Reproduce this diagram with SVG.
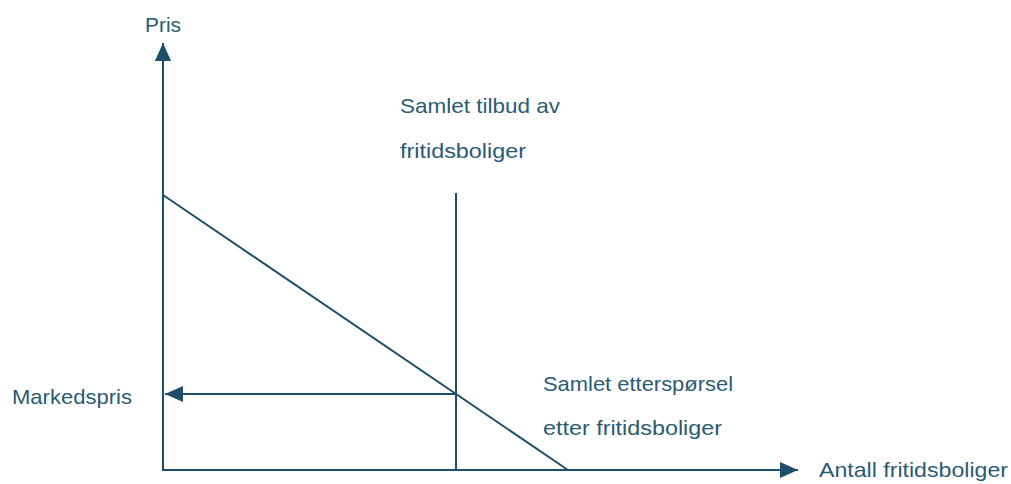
<svg xmlns="http://www.w3.org/2000/svg" width="1011" height="484" viewBox="0 0 1011 484">
<style>
.ln{stroke:#1d4f6a;stroke-width:2;fill:none}
.t{font-family:"Liberation Sans",Arial,sans-serif;font-size:21px;fill:#2a5b73}
</style>
<defs>
<marker id="ah" viewBox="0 0 10 10" refX="10" refY="5" markerWidth="9" markerHeight="9" markerUnits="userSpaceOnUse" orient="auto">
<path d="M0,0 L10,5 L0,10 z" fill="#1d4f6a"/>
</marker>
<marker id="ah2" viewBox="0 0 10 10" refX="10" refY="5" markerWidth="18" markerHeight="18" markerUnits="userSpaceOnUse" orient="auto">
<path d="M0,0.5 L10,5 L0,9.5 z" fill="#1d4f6a"/>
</marker>
</defs>
<g id="connectors">
<line id="y-axis" class="ln" x1="163" y1="471" x2="163" y2="43" marker-end="url(#ah2)"/>
<line id="x-axis" class="ln" x1="163" y1="470" x2="798" y2="470" marker-end="url(#ah2)"/>
<line id="demand" class="ln" x1="163" y1="195" x2="568" y2="470"/>
<line id="supply" class="ln" x1="456" y1="193" x2="456" y2="470"/>
<line id="price" class="ln" x1="456" y1="394" x2="165" y2="394" marker-end="url(#ah2)"/>
</g>
<g id="label-pris"><text class="t" x="145" y="32" textLength="36" lengthAdjust="spacingAndGlyphs">Pris</text></g>
<g id="label-tilbud">
<text class="t" x="400" y="113" textLength="160" lengthAdjust="spacingAndGlyphs">Samlet tilbud av</text>
<text class="t" x="400" y="158" textLength="126" lengthAdjust="spacingAndGlyphs">fritidsboliger</text>
</g>
<g id="label-markedspris"><text class="t" x="12" y="404" textLength="120" lengthAdjust="spacingAndGlyphs">Markedspris</text></g>
<g id="label-ettersporsel">
<text class="t" x="543" y="391" textLength="190" lengthAdjust="spacingAndGlyphs">Samlet etterspørsel</text>
<text class="t" x="543" y="435" textLength="179" lengthAdjust="spacingAndGlyphs">etter fritidsboliger</text>
</g>
<g id="label-antall"><text class="t" x="819" y="477" textLength="189" lengthAdjust="spacingAndGlyphs">Antall fritidsboliger</text></g>
</svg>
